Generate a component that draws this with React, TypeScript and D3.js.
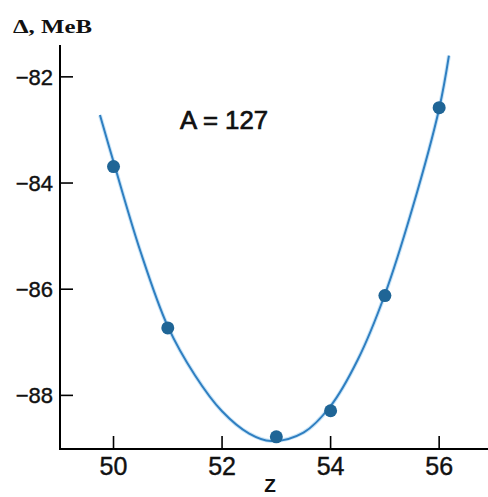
import React from "react";
import * as d3 from "d3";

// Measured points (Z, mass excess Δ in MeV)
const pointZ = [50, 51, 53, 54, 55, 56];
const pointDelta = [-83.69, -86.73, -88.78, -88.29, -86.12, -82.58];

// Fitted curve
const curveZ = [49.75, 50, 50.5, 51, 51.5, 52, 52.5, 52.9, 53.5, 54, 54.5, 55, 55.5, 56, 56.18];
const curveDelta = [-82.72, -83.6, -85.3, -86.7, -87.62, -88.3, -88.72, -88.86, -88.7, -88.2, -87.33, -86.1, -84.5, -82.6, -81.6];

const xTicks = [50, 52, 54, 56];
const yTicks = [-82, -84, -86, -88];

const yTitle = "Δ, MeB";
const xTitle = "Z";
const annotation = "A = 127";

export default function App() {
  const W = 488;
  const H = 497;
  const x = d3.scaleLinear().domain([49.014, 56.9]).range([60, 488]);
  const y = d3.scaleLinear().domain([-89.01, -81.4]).range([449, 45]);

  const curve = curveZ.map((z, i) => [z, curveDelta[i]] as [number, number]);
  const line = d3
    .line<[number, number]>()
    .x((d) => x(d[0]))
    .y((d) => y(d[1]))
    .curve(d3.curveCatmullRom.alpha(0.5));
  const path = line(curve) || "";

  const sans = "'Liberation Sans', Arial, sans-serif";
  const serif = "'Liberation Serif', 'Times New Roman', serif";

  return (
    <svg
      width={W}
      height={H}
      style={{ position: "absolute", left: 0, top: 0, background: "#fff" }}
    >
      {/* axes */}
      <line x1={x(49.014)} x2={x(49.014)} y1={y(-81.4)} y2={y(-89.01)} stroke="#000" strokeWidth={2} />
      <line x1={x(49.014) - 1} x2={x(56.9)} y1={y(-89.01)} y2={y(-89.01)} stroke="#000" strokeWidth={2} />

      {yTicks.map((t) => (
        <g key={"y" + t}>
          <line x1={x(49.014)} x2={x(49.014) + 13} y1={y(t)} y2={y(t)} stroke="#000" strokeWidth={1.6} />
          <text
            x={53}
            y={y(t)}
            dy="0.36em"
            textAnchor="end"
            fontFamily={sans}
            fontSize={22}
            fill="#111"
            stroke="#111"
            strokeWidth={0.4}
          >
            {"\u2212" + Math.abs(t)}
          </text>
        </g>
      ))}

      {xTicks.map((t) => (
        <g key={"x" + t}>
          <line x1={x(t)} x2={x(t)} y1={y(-89.01)} y2={y(-89.01) - 13} stroke="#000" strokeWidth={1.6} />
          <text
            x={x(t)}
            y={475}
            textAnchor="middle"
            fontFamily={sans}
            fontSize={25}
            fill="#111"
            stroke="#111"
            strokeWidth={0.4}
          >
            {t}
          </text>
        </g>
      ))}

      <text x={13} y={33} fontFamily={serif} fontWeight="bold" fontSize={18} textLength={79} lengthAdjust="spacingAndGlyphs" fill="#111">
        {yTitle}
      </text>
      <text x={270} y={492} textAnchor="middle" fontFamily={sans} fontWeight="bold" fontSize={19} fill="#111">
        {xTitle}
      </text>
      <text x={180} y={129} fontFamily={sans} fontSize={25} fill="#111" stroke="#111" strokeWidth={0.7} textLength={88} lengthAdjust="spacingAndGlyphs">
        {annotation}
      </text>

      {/* curve */}
      <path d={path} fill="none" stroke="#a9d4f2" strokeWidth={4} strokeOpacity={0.6} />
      <path d={path} fill="none" stroke="#2f7fc1" strokeWidth={2} />

      {pointZ.map((z, i) => (
        <circle key={"p" + z} cx={x(z)} cy={y(pointDelta[i])} r={6.5} fill="#1f6596" />
      ))}
    </svg>
  );
}
